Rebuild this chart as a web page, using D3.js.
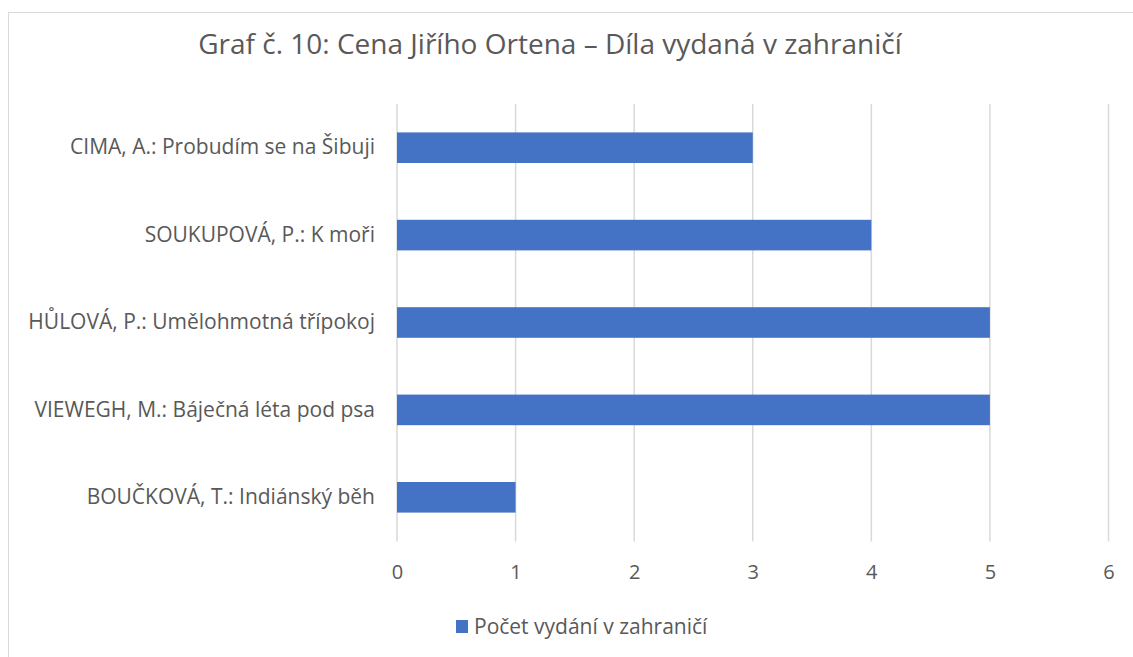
<!DOCTYPE html>
<html>
<head>
<meta charset="utf-8">
<script src="https://cdn.jsdelivr.net/npm/d3@7"></script>
<style>
body { margin: 0; background: #fff; }
text { font-family: "Open Sans", sans-serif; fill: #595959; }
</style>
</head>
<body>
<div id="chart"></div>
<script>
// data, top to bottom as shown
var categories = [
    "CIMA, A.: Probudím se na Šibuji",
    "SOUKUPOVÁ, P.: K moři",
    "HŮLOVÁ, P.: Umělohmotná třípokoj",
    "VIEWEGH, M.: Báječná léta pod psa",
    "BOUČKOVÁ, T.: Indiánský běh"
];
var values = [3, 4, 5, 5, 1];
var tickValues = [0, 1, 2, 3, 4, 5, 6];
var seriesName = "Počet vydání v zahraničí";
var title = "Graf č. 10: Cena Jiřího Ortena – Díla vydaná v zahraničí";

var width = 1133, height = 657;
var margin = {left: 397, right: 25, top: 104, bottom: 116};

var svg = d3.select("#chart")
    .append("svg")
    .attr("width", width)
    .attr("height", height)

// chart border (cropped on right and bottom)
svg.append("rect")
    .attr("x", 8.5)
    .attr("y", 12.5)
    .attr("width", 1200)
    .attr("height", 700)
    .attr("fill", "none")
    .attr("stroke", "#d9d9d9")

var x = d3.scaleLinear()
    .domain([0, 6])
    .range([margin.left, 1108.5])

var y = d3.scaleBand()
    .domain(categories)
    .range([margin.top, height - margin.bottom])
    .paddingInner(0.65)
    .paddingOuter(0.325)

svg.append("text")
    .attr("x", 550)
    .attr("y", 54)
    .attr("text-anchor", "middle")
    .attr("font-size", 28)
    .text(title)

// gridlines
svg.append("g")
    .selectAll("line")
    .data(tickValues)
    .enter().append("line")
    .attr("x1", function(d){ return x(d); })
    .attr("x2", function(d){ return x(d); })
    .attr("y1", margin.top)
    .attr("y2", height - margin.bottom + 0.5)
    .attr("stroke", "#d9d9d9")
    .attr("stroke-width", 1.5)

svg.append("g")
    .selectAll("rect")
    .data(values)
    .enter().append("rect")
    .attr("x", x(0))
    .attr("y", function(d, i){ return y(categories[i]); })
    .attr("width", function(d){ return x(d) - x(0); })
    .attr("height", y.bandwidth())
    .attr("fill", "#4472c4")

// x axis labels
var xAxis = svg.append("g")
    .attr("transform", "translate(0," + (height - margin.bottom) + ")")
    .call(d3.axisBottom(x).tickValues(tickValues).tickSize(0).tickPadding(24).tickFormat(d3.format("d")))
xAxis.select(".domain").remove()
xAxis.selectAll("text")
    .attr("font-size", 20)
    .style("font-family", "'Open Sans', sans-serif")
    .attr("fill", "#595959")

// category labels
var yAxis = svg.append("g")
    .attr("transform", "translate(" + (margin.left - 22) + ",0)")
    .call(d3.axisLeft(y).tickSize(0).tickPadding(0))
yAxis.select(".domain").remove()
yAxis.selectAll("text")
    .attr("font-size", 21)
    .style("font-family", "'Open Sans', sans-serif")
    .attr("fill", "#595959")

// legend
var legend = svg.append("g")
    .attr("transform", "translate(456,620)")
legend.append("rect")
    .attr("width", 12)
    .attr("height", 13)
    .attr("fill", "#4472c4")
legend.append("text")
    .attr("x", 18)
    .attr("y", 14)
    .attr("font-size", 21)
    .text(seriesName)
</script>
</body>
</html>
